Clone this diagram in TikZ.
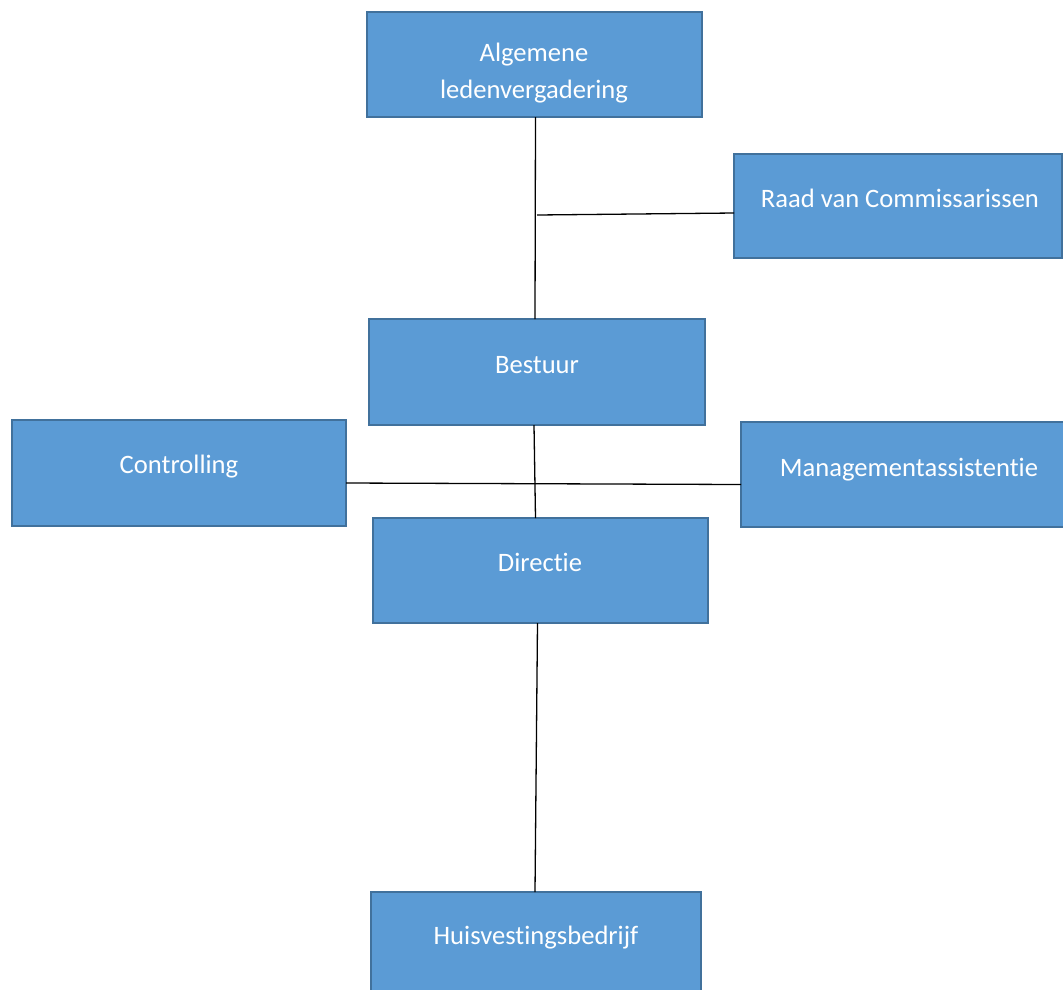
\documentclass[tikz,border=0pt]{standalone}
\usepackage{fontspec}
\setmainfont{Carlito}[Ligatures=NoCommon]
\definecolor{boxfill}{HTML}{5B9BD5}
\definecolor{boxline}{HTML}{41719C}
\begin{document}
\begin{tikzpicture}[x=1pt,y=-1pt,
  orgbox/.style={draw=boxline, fill=boxfill, line width=2.5pt, inner sep=0pt, outer sep=0pt, anchor=north west},
  lbl/.style={text=white, font=\fontsize{26.6}{37}\selectfont, anchor=base, inner sep=0pt, align=center},
  conn/.style={draw=black, line width=1.3pt}]
\clip (0,0) rectangle (1063,989);
% boxes
\node[orgbox, minimum width=335, minimum height=105] (alv) at (367,12) {};
\node[orgbox, minimum width=328, minimum height=104] (raad) at (734,154) {};
\node[orgbox, minimum width=336, minimum height=106] (bestuur) at (369,319) {};
\node[orgbox, minimum width=334, minimum height=106] (ctrl) at (12,420) {};
\node[orgbox, minimum width=330, minimum height=105] (mgmt) at (741,422) {};
\node[orgbox, minimum width=335, minimum height=105] (dir) at (373,518) {};
\node[orgbox, minimum width=330, minimum height=130] (huis) at (371,892) {};
% labels
\node[lbl] (alvt1) at (534,61) {Algemene};
\node[lbl] (alvt2) at (534,98) {ledenvergadering};
\node[lbl] (raadt) at (900,207) {Raad van Commissarissen};
\node[lbl] (bestuurt) at (537,373) {Bestuur};
\node[lbl] (ctrlt) at (179,473) {Controlling};
\node[lbl] (mgmtt) at (909,476) {Managementassistentie};
\node[lbl] (dirt) at (540,571) {Directie};
\node[lbl] (huist) at (536,944) {Huisvestingsbedrijf};
% connectors
\coordinate (j1) at (537,215);
\draw[conn] ([xshift=1pt]alv.south) -- ([xshift=-2pt]bestuur.north);
\draw[conn] (j1) -- ([yshift=-7pt]raad.west);
\draw[conn] ([xshift=-3pt]bestuur.south) -- ([xshift=-5pt]dir.north);
\draw[conn] ([yshift=-10pt]ctrl.east) -- ([yshift=-10pt]mgmt.west);
\draw[conn] ([xshift=-3pt]dir.south) -- ([xshift=-1pt]huis.north);
\end{tikzpicture}
\end{document}
